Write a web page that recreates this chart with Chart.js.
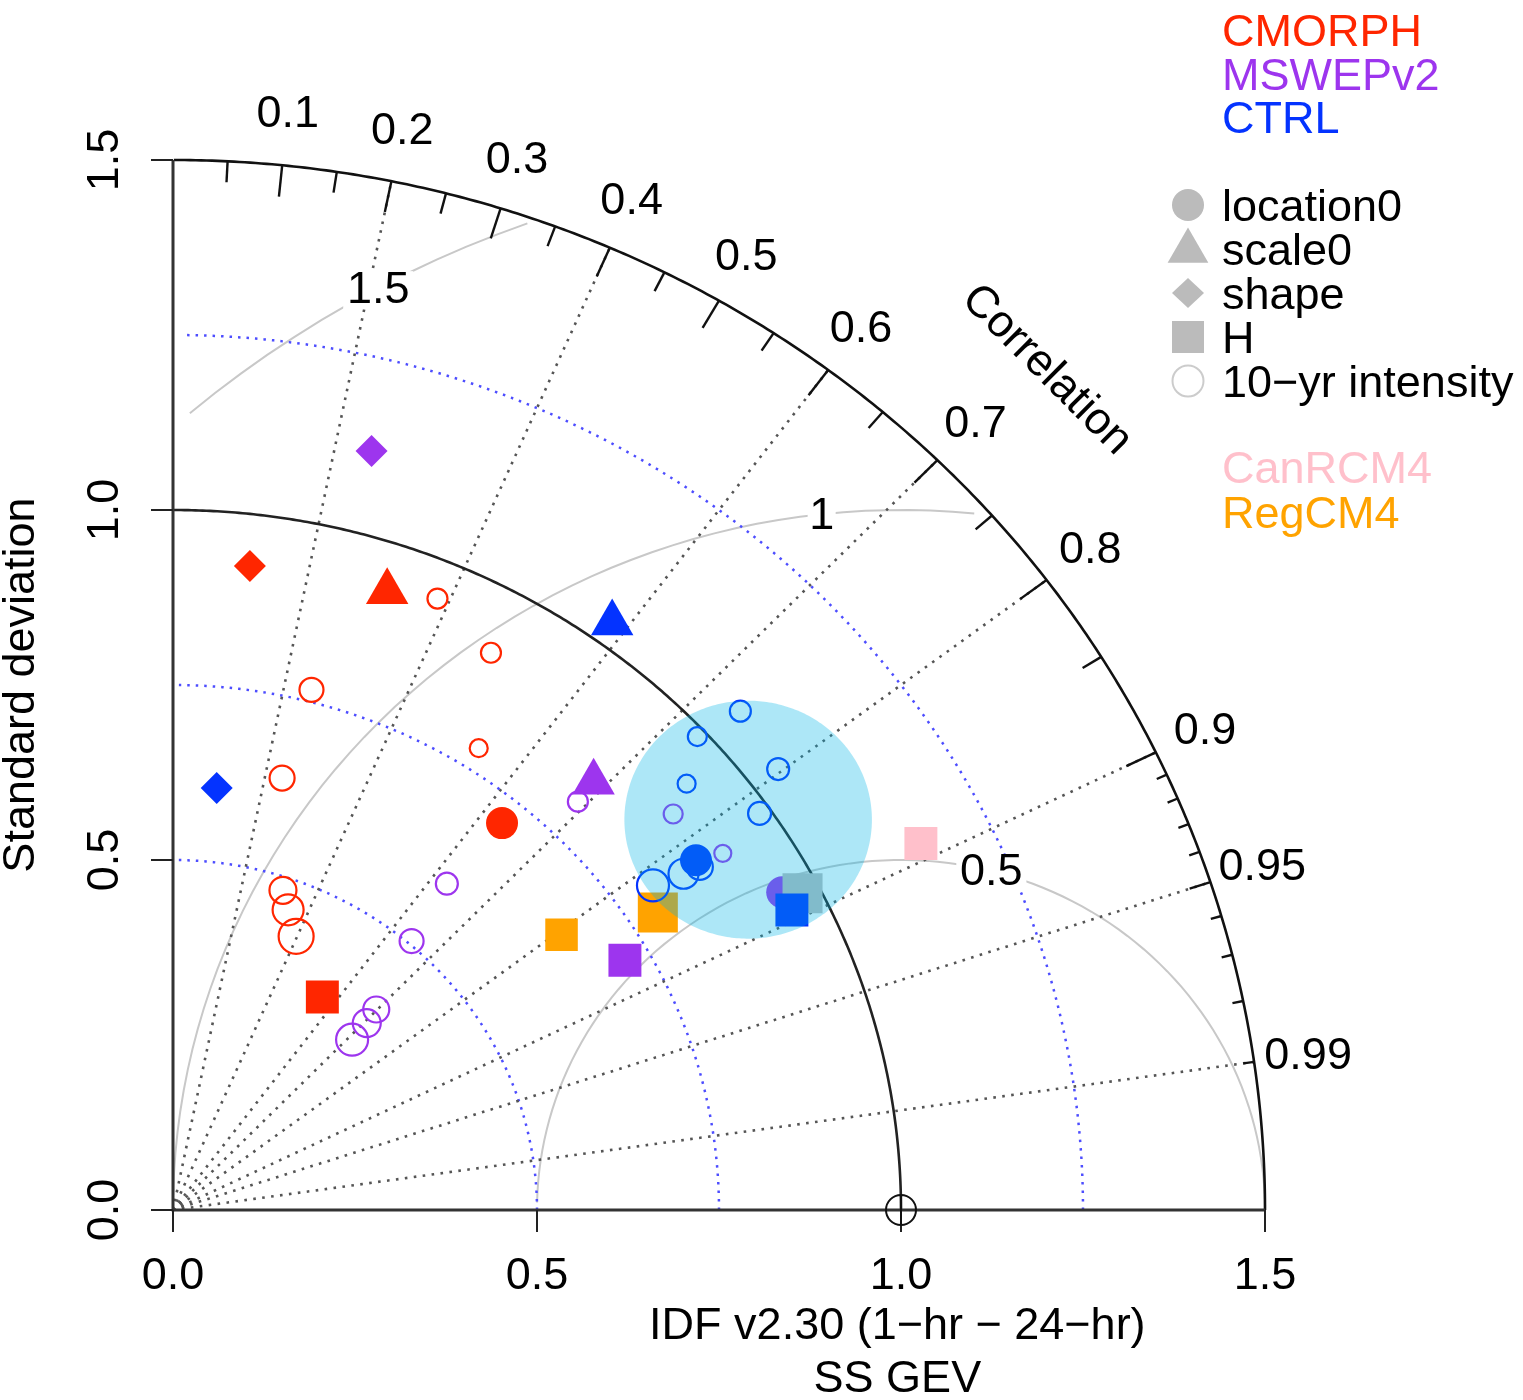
<!DOCTYPE html>
<html>
<head>
<meta charset="utf-8">
<script src="https://cdn.jsdelivr.net/npm/chart.js@4.4.1/dist/chart.umd.min.js"></script>
<style>
  html, body { margin: 0; padding: 0; background: #fff; }
  canvas { display: block; }
</style>
</head>
<body>
<canvas id="taylor" width="1523" height="1400"></canvas>
<script>
// normalised standard deviation and correlation of every marker
// GEV parameter order: location0, scale0, shape, H
const cmorphParamSd  = [0.714, 0.931, 0.926, 0.367]
const cmorphParamCor = [0.633, 0.316, 0.114, 0.559]
const cmorphIntSd    = [0.946, 0.908, 0.767, 0.782, 0.635, 0.481, 0.457, 0.426]
const cmorphIntCor   = [0.384, 0.481, 0.248, 0.537, 0.236, 0.314, 0.346, 0.397]

const mswepParamSd  = [0.952, 0.841, 1.118, 0.716]
const mswepParamCor = [0.879, 0.687, 0.244, 0.867]
const mswepIntSd    = [0.806, 0.599, 0.505, 0.400, 0.377, 0.346, 0.890, 0.911]
const mswepIntCor   = [0.690, 0.628, 0.649, 0.698, 0.706, 0.711, 0.772, 0.829]

const ctrlParamSd  = [0.875, 1.033, 0.606, 0.952]
const ctrlParamCor = [0.821, 0.584, 0.099, 0.893]
const ctrlIntSd    = [1.056, 0.988, 1.043, 0.932, 0.985, 0.874, 0.850, 0.806]
const ctrlIntCor   = [0.738, 0.729, 0.797, 0.757, 0.818, 0.828, 0.825, 0.818]

// H of the regional models
const regcmSd   = [0.663, 0.790]
const regcmCor  = [0.805, 0.843]
const canrcmSd  = [1.153]
const canrcmCor = [0.891]
const otherSd   = [0.976]
const otherCor  = [0.886]

// shaded cluster
const highlightSd = 0.967
const highlightCor = 0.817
const highlightRadius = 0.17

// axes
const refSd = 1
const maxSd = 1.5
const sdTicks = [0, 0.5, 1, 1.5]
const sdTickLabels = ["0.0", "0.5", "1.0", "1.5"]
const sdArcs = [0.5, 0.75, 1.25]
const rmsLevels = [0.5, 1, 1.5]
const rmsLabels = ["0.5", "1", "1.5"]
const rmsLabelAngle = [1.32, 1.68, 2.07]
const corrLines = [0.2, 0.4, 0.6, 0.7, 0.8, 0.9, 0.95, 0.99]
const corrLabels = [0.1, 0.2, 0.3, 0.4, 0.5, 0.6, 0.7, 0.8, 0.9, 0.95, 0.99]
const bigTicks = [0.1, 0.2, 0.3, 0.4, 0.5, 0.6, 0.7, 0.8, 0.9]
const medTicks = [0.05, 0.15, 0.25, 0.35, 0.45, 0.55, 0.65, 0.75, 0.85, 0.95]
const smlTicks = [0.91, 0.92, 0.93, 0.94, 0.96, 0.97, 0.98, 0.99]

const sourceNames = ["CMORPH", "MSWEPv2", "CTRL"]
const shapeNames = ["location0", "scale0", "shape", "H", "10\u2212yr intensity"]
const modelNames = ["CanRCM4", "RegCM4"]

// marker sizes of the 10-yr intensity circles (px)
const cmorphIntRadius = [10, 10, 12, 9, 12.5, 13.5, 15.5, 17.5]
const mswepIntRadius  = [10, 11, 12, 13, 14, 16, 9.5, 8.5]
const ctrlIntRadius   = [10.5, 9.5, 11, 9, 11.5, 13, 15, 16]

const RED = "#FF2600"
const PURPLE = "#9D35EE"
const BLUE = "#0433FF"
const PINK = "#FFC0CB"
const ORANGE = "#FFA300"
const GREY = "#BEBEBE"
const FONT = '"Liberation Sans", Arial, sans-serif'

function pts(sd, cor) {
  return sd.map((s, i) => ({ x: s * cor[i], y: s * Math.sqrt(1 - cor[i] * cor[i]) }))
}

function filled(label, data, style, radius, color) {
  return { label, data, pointStyle: style, pointRadius: radius, backgroundColor: color, borderColor: color, borderWidth: 0 }
}

function obsSets(name, color, pSd, pCor, iSd, iCor, iRad) {
  const p = pts(pSd, pCor)
  return [
    filled(name + " H", [p[3]], "rect", 23.3, color),
    filled(name + " shape", [p[2]], "rectRot", 16, color),
    filled(name + " scale0", [p[1]], "triangle", 24.5, color),
    {
      label: name + " 10-yr intensity",
      data: pts(iSd, iCor),
      pointStyle: "circle",
      pointRadius: iRad,
      backgroundColor: "rgba(0,0,0,0)",
      borderColor: color,
      borderWidth: 2.2,
    },
    filled(name + " location0", [p[0]], "circle", 16, color),
  ]
}

// listed bottom to top
const layers = [
  filled("RegCM4 H", pts(regcmSd, regcmCor), "rect", [23, 28.3], ORANGE),
  filled("CanRCM4 H", pts(canrcmSd, canrcmCor), "rect", 23.3, PINK),
  ...obsSets("CMORPH", RED, cmorphParamSd, cmorphParamCor, cmorphIntSd, cmorphIntCor, cmorphIntRadius),
  ...obsSets("MSWEPv2", PURPLE, mswepParamSd, mswepParamCor, mswepIntSd, mswepIntCor, mswepIntRadius),
  filled("other H", pts(otherSd, otherCor), "rect", 28.3, GREY),
  ...obsSets("CTRL", BLUE, ctrlParamSd, ctrlParamCor, ctrlIntSd, ctrlIntCor, ctrlIntRadius),
]
layers.forEach((d, i) => { d.order = layers.length - i })

function curve(ctx, xs, ys, cx, cy, r, a0, a1, step, keep) {
  ctx.beginPath()
  let started = false
  for (let a = a0; a <= a1 + 1e-9; a += step) {
    const x = cx + r * Math.cos(a), y = cy + r * Math.sin(a)
    if (keep && !keep(x, y)) continue
    const X = xs.getPixelForValue(x), Y = ys.getPixelForValue(y)
    if (!started) { ctx.moveTo(X, Y); started = true } else ctx.lineTo(X, Y)
  }
  ctx.stroke()
}

const taylorFrame = {
  id: "taylorFrame",
  beforeDatasetsDraw(chart) {
    const ctx = chart.ctx
    const xs = chart.scales.x, ys = chart.scales.y
    const X = (v) => xs.getPixelForValue(v)
    const Y = (v) => ys.getPixelForValue(v)
    ctx.save()

    // centred RMS difference arcs
    ctx.strokeStyle = "#c8c8c8"
    ctx.lineWidth = 2
    rmsLevels.forEach((g) => {
      curve(ctx, xs, ys, refSd, 0, g, 0, Math.PI, 0.03, (x, y) => x >= 0 && x * x + y * y <= maxSd * maxSd + 1e-9)
    })

    // sd arcs (blue dotted)
    ctx.strokeStyle = "#4d4dff"
    ctx.lineWidth = 2.5
    ctx.setLineDash([2.5, 6])
    sdArcs.forEach((r) => curve(ctx, xs, ys, 0, 0, r, 0, 1.56, 0.01))

    // correlation rays
    ctx.strokeStyle = "#555"
    ctx.lineWidth = 2.6
    ctx.setLineDash([2.6, 6.4])
    corrLines.forEach((c) => {
      ctx.beginPath()
      ctx.moveTo(X(0), Y(0))
      ctx.lineTo(X(maxSd * c), Y(maxSd * Math.sqrt(1 - c * c)))
      ctx.stroke()
    })
    ctx.setLineDash([])

    // reference sd arc and outer arc
    ctx.strokeStyle = "#222"
    ctx.lineWidth = 2.6
    curve(ctx, xs, ys, 0, 0, refSd, 0, Math.PI / 2, 0.005)
    ctx.strokeStyle = "#111"
    curve(ctx, xs, ys, 0, 0, maxSd, 0, Math.PI / 2, 0.005)

    // correlation ticks
    const tick = (list, inner) => list.forEach((c) => {
      const s = Math.sqrt(1 - c * c)
      ctx.beginPath()
      ctx.moveTo(X(maxSd * c), Y(maxSd * s))
      ctx.lineTo(X(inner * maxSd * c), Y(inner * maxSd * s))
      ctx.stroke()
    })
    ctx.lineWidth = 2.4
    tick(bigTicks, 0.97)
    tick(medTicks, 0.98)
    tick(smlTicks, 0.99)

    // axes
    ctx.strokeStyle = "#333"
    ctx.lineWidth = 3
    ctx.beginPath()
    ctx.moveTo(X(0), Y(maxSd)); ctx.lineTo(X(0), Y(0)); ctx.lineTo(X(maxSd), Y(0))
    ctx.stroke()
    ctx.lineWidth = 2
    ctx.strokeStyle = "#222"
    sdTicks.forEach((v) => {
      ctx.beginPath(); ctx.moveTo(X(0) - 22, Y(v)); ctx.lineTo(X(0), Y(v)); ctx.stroke()
      ctx.beginPath(); ctx.moveTo(X(v), Y(0)); ctx.lineTo(X(v), Y(0) + 22); ctx.stroke()
    })

    // RMS labels on white boxes
    ctx.font = "45px " + FONT
    ctx.textAlign = "center"
    ctx.textBaseline = "middle"
    rmsLevels.forEach((g, i) => {
      const a = rmsLabelAngle[i]
      const px = X(refSd + g * Math.cos(a)), py = Y(g * Math.sin(a)) + 2
      const w = ctx.measureText(rmsLabels[i]).width * 1.12
      ctx.fillStyle = "#fff"
      ctx.fillRect(px - w / 2, py - 19, w, 38)
      ctx.fillStyle = "#000"
      ctx.fillText(rmsLabels[i], px, py)
    })

    // correlation labels
    ctx.fillStyle = "#000"
    corrLabels.forEach((c) => {
      const r = 1.05 * maxSd
      ctx.fillText(String(c), X(r * c), Y(r * Math.sqrt(1 - c * c)) + 2)
    })
    ctx.save()
    ctx.translate(X(0.8 * maxSd), Y(0.8 * maxSd))
    ctx.rotate(Math.PI / 4)
    ctx.fillText("Correlation", 0, 0)
    ctx.restore()

    // sd tick labels
    sdTicks.forEach((v, i) => {
      ctx.fillText(sdTickLabels[i], X(v), Y(0) + 67)
      ctx.save()
      ctx.translate(X(0) - 67, Y(v))
      ctx.rotate(-Math.PI / 2)
      ctx.fillText(sdTickLabels[i], 0, 0)
      ctx.restore()
    })
    ctx.save()
    ctx.translate(22, Y(maxSd / 2))
    ctx.rotate(-Math.PI / 2)
    ctx.fillText("Standard deviation", 0, 0)
    ctx.restore()
    ctx.fillText("IDF v2.30 (1\u2212hr \u2212 24\u2212hr)", X(0.995), Y(0) + 117)
    ctx.fillText("SS GEV", X(0.995), Y(0) + 170)

    // reference point
    ctx.strokeStyle = "#111"
    ctx.lineWidth = 2
    ctx.beginPath()
    ctx.arc(X(refSd), Y(0), 15, 0, Math.PI * 2)
    ctx.moveTo(X(refSd), Y(0) - 15); ctx.lineTo(X(refSd), Y(0) + 15)
    ctx.stroke()
    ctx.restore()
  },

  afterDatasetsDraw(chart) {
    const ctx = chart.ctx
    const xs = chart.scales.x, ys = chart.scales.y
    ctx.save()

    // shaded cluster
    const cx = highlightSd * highlightCor
    const cy = highlightSd * Math.sqrt(1 - highlightCor * highlightCor)
    ctx.beginPath()
    for (let a = 0; a <= Math.PI * 2; a += 0.02) {
      const px = xs.getPixelForValue(cx + highlightRadius * Math.cos(a))
      const py = ys.getPixelForValue(cy + highlightRadius * Math.sin(a))
      a ? ctx.lineTo(px, py) : ctx.moveTo(px, py)
    }
    ctx.closePath()
    ctx.fillStyle = "rgba(0,180,230,0.32)"
    ctx.fill()

    // legend
    const lx = 1222, sx = 1188
    ctx.font = "45px " + FONT
    ctx.textAlign = "left"
    ctx.textBaseline = "alphabetic"
    const srcColors = [RED, PURPLE, BLUE]
    sourceNames.forEach((n, i) => {
      ctx.fillStyle = srcColors[i]
      ctx.fillText(n, lx, 46 + 43.5 * i)
    })
    const modelColors = [PINK, ORANGE]
    modelNames.forEach((n, i) => {
      ctx.fillStyle = modelColors[i]
      ctx.fillText(n, lx, 483 + 45 * i)
    })
    shapeNames.forEach((n, i) => {
      const base = 221 + 44 * i
      ctx.fillStyle = "#000"
      ctx.fillText(n, lx, base)
      const y = base - 16
      ctx.fillStyle = "#bbb"
      ctx.strokeStyle = "#ccc"
      ctx.lineWidth = 2
      ctx.beginPath()
      if (i === 0) {
        ctx.arc(sx, y, 16, 0, Math.PI * 2); ctx.fill()
      } else if (i === 1) {
        const r = 23.5, yc = y + 2
        ctx.moveTo(sx, yc - r)
        ctx.lineTo(sx + r * Math.sqrt(3) / 2, yc + r / 2)
        ctx.lineTo(sx - r * Math.sqrt(3) / 2, yc + r / 2)
        ctx.closePath(); ctx.fill()
      } else if (i === 2) {
        ctx.moveTo(sx - 16, y); ctx.lineTo(sx, y - 15); ctx.lineTo(sx + 16, y); ctx.lineTo(sx, y + 15)
        ctx.closePath(); ctx.fill()
      } else if (i === 3) {
        ctx.fillRect(sx - 16, y - 16, 32, 32)
      } else {
        ctx.arc(sx, y, 15.5, 0, Math.PI * 2); ctx.stroke()
      }
    })
    ctx.restore()
  },
}

new Chart(document.getElementById("taylor"), {
  type: "scatter",
  data: { datasets: layers },
  options: {
    responsive: false,
    animation: false,
    events: [],
    layout: { padding: { left: 173, right: 258, top: 160, bottom: 190 } },
    scales: {
      x: { type: "linear", min: 0, max: maxSd, display: false },
      y: { type: "linear", min: 0, max: maxSd, display: false },
    },
    plugins: { legend: { display: false }, tooltip: { enabled: false } },
  },
  plugins: [taylorFrame],
})
</script>
</body>
</html>
